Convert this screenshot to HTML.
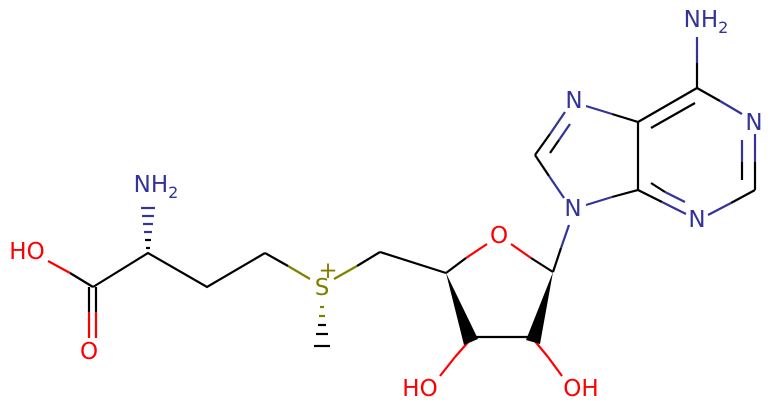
<!DOCTYPE html>
<html><head><style>body{margin:0;background:#fff}svg{display:block}text{font-family:"DejaVu Sans","Liberation Sans",sans-serif;font-size:23px;text-anchor:middle;dominant-baseline:central}</style></head><body>
<svg width="771" height="414" viewBox="0 0 771 414" xmlns="http://www.w3.org/2000/svg">
<g stroke-width="2.2" fill="none" stroke-linecap="butt">
<line x1="697" y1="88" x2="697" y2="63" stroke="#000"/><line x1="697" y1="63" x2="697" y2="37" stroke="#33339a"/>
<line x1="697" y1="88" x2="720" y2="101" stroke="#000"/><line x1="720" y1="101" x2="742" y2="114" stroke="#33339a"/>
<line x1="755" y1="134" x2="755" y2="162" stroke="#33339a"/><line x1="755" y1="162" x2="755" y2="190" stroke="#000"/>
<line x1="742" y1="140" x2="742" y2="162" stroke="#33339a"/><line x1="742" y1="162" x2="742" y2="180" stroke="#000"/>
<line x1="755" y1="190" x2="731" y2="203" stroke="#000"/><line x1="731" y1="203" x2="708" y2="215" stroke="#33339a"/>
<line x1="686" y1="214" x2="662" y2="202" stroke="#33339a"/><line x1="662" y1="202" x2="638" y2="190" stroke="#000"/>
<line x1="685" y1="202" x2="665" y2="192" stroke="#33339a"/><line x1="665" y1="192" x2="651" y2="183" stroke="#000"/>
<line x1="638" y1="190" x2="638" y2="122" stroke="#000"/>
<line x1="638" y1="122" x2="697" y2="88" stroke="#000"/><line x1="651" y1="128" x2="695" y2="103" stroke="#000"/>
<line x1="638" y1="122" x2="612" y2="114" stroke="#000"/><line x1="612" y1="114" x2="586" y2="106" stroke="#33339a"/>
<line x1="565" y1="112" x2="550" y2="134" stroke="#33339a"/><line x1="550" y1="134" x2="535" y2="155" stroke="#000"/>
<line x1="570" y1="124" x2="559" y2="140" stroke="#33339a"/><line x1="559" y1="140" x2="550" y2="153" stroke="#000"/>
<line x1="535" y1="155" x2="549" y2="176" stroke="#000"/><line x1="549" y1="176" x2="564" y2="198" stroke="#33339a"/>
<line x1="638" y1="190" x2="612" y2="197" stroke="#000"/><line x1="612" y1="197" x2="586" y2="205" stroke="#33339a"/>
<line x1="569" y1="225" x2="561" y2="248" stroke="#33339a"/><line x1="561" y1="248" x2="553" y2="272" stroke="#000"/>
<line x1="553" y1="272" x2="531" y2="258" stroke="#000"/><line x1="531" y1="258" x2="511" y2="244" stroke="#f00"/>
<line x1="487" y1="244" x2="466" y2="258" stroke="#f00"/><line x1="466" y1="258" x2="446" y2="273" stroke="#000"/>
<line x1="446" y1="273" x2="380" y2="252" stroke="#000"/>
<line x1="472" y1="337" x2="532" y2="337" stroke="#000"/>
<line x1="470" y1="340" x2="455" y2="357" stroke="#f00"/><line x1="455" y1="357" x2="440" y2="376" stroke="#f00"/>
<line x1="534" y1="340" x2="548" y2="357" stroke="#f00"/><line x1="548" y1="357" x2="562" y2="376" stroke="#f00"/>
<line x1="380" y1="252" x2="357" y2="266" stroke="#000"/><line x1="357" y1="266" x2="334" y2="279" stroke="#808000"/>
<line x1="310" y1="279" x2="288" y2="266" stroke="#808000"/><line x1="288" y1="266" x2="265" y2="253" stroke="#000"/>
<polyline points="265,253 207,287 148,253 93,287" stroke="#000"/>
<line x1="93" y1="287" x2="70" y2="273" stroke="#000"/><line x1="70" y1="273" x2="48" y2="261" stroke="#f00"/>
<line x1="89" y1="287" x2="89" y2="312" stroke="#000"/><line x1="89" y1="312" x2="89" y2="338" stroke="#f00"/>
<line x1="96" y1="287" x2="96" y2="312" stroke="#000"/><line x1="96" y1="312" x2="96" y2="338" stroke="#f00"/>
</g>
<polygon points="446,273 464,345 478,339" fill="#000"/>
<polygon points="553,272 526,340 540,344" fill="#000"/>
<g stroke-width="2.2">
<line x1="146" y1="248" x2="150" y2="248" stroke="#000"/>
<line x1="145" y1="240" x2="151" y2="240" stroke="#000"/>
<line x1="144" y1="232" x2="152" y2="232" stroke="#33339a"/>
<line x1="143" y1="224" x2="153" y2="224" stroke="#33339a"/>
<line x1="142" y1="216" x2="154" y2="216" stroke="#33339a"/>
<line x1="141" y1="208" x2="155" y2="208" stroke="#33339a"/>
<line x1="320" y1="307" x2="324" y2="307" stroke="#808000"/>
<line x1="319" y1="316" x2="325" y2="316" stroke="#808000"/>
<line x1="318" y1="325" x2="326" y2="325" stroke="#000"/>
<line x1="316" y1="334" x2="328" y2="334" stroke="#000"/>
<line x1="314" y1="346" x2="330" y2="346" stroke="#000"/>
</g>
<g fill="#33339a">
<text x="706" y="20">NH<tspan font-size="16" dy="7">2</tspan></text>
<text x="754" y="123">N</text>
<text x="697" y="220">N</text>
<text x="574" y="101">N</text>
<text x="573" y="209">N</text>
<text x="156" y="185">NH<tspan font-size="16" dy="7">2</tspan></text>
</g>
<g fill="#f00">
<text x="499" y="236">O</text>
<text x="420" y="389">HO</text>
<text x="581" y="389">OH</text>
<text x="27" y="252">HO</text>
<text x="89" y="352">O</text>
</g>
<text x="322" y="288" fill="#808000">S</text>
<text x="328" y="271" fill="#808000" font-size="13">+</text>
</svg>
</body></html>
